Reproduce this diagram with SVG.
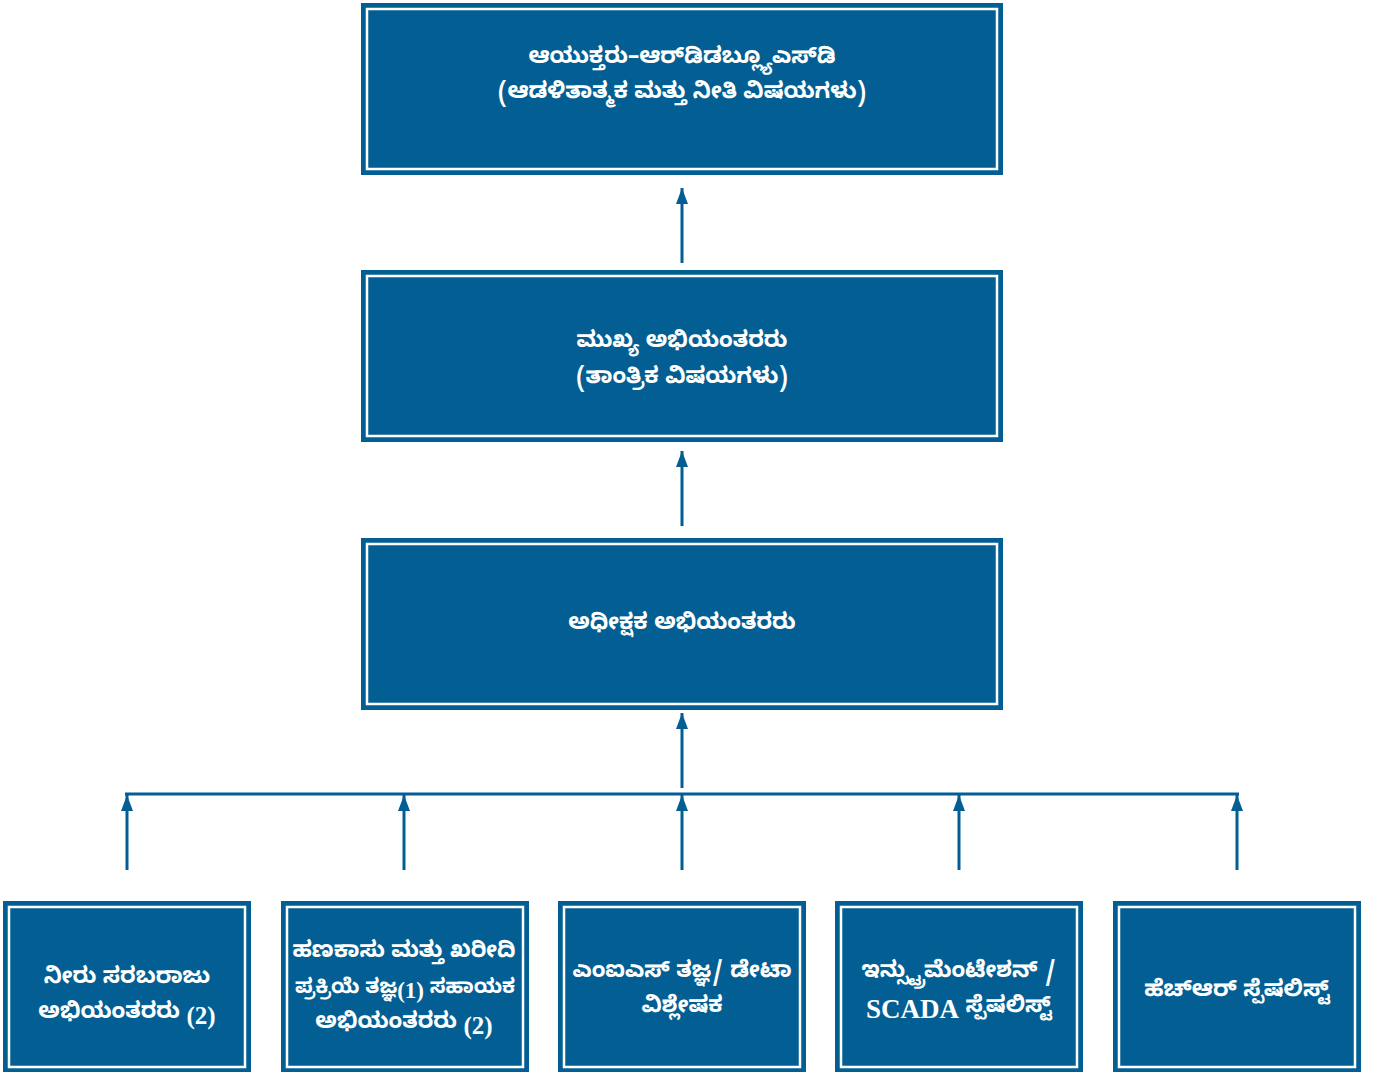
<svg xmlns="http://www.w3.org/2000/svg" width="1376" height="1072" viewBox="0 0 1376 1072">
<style>
.box{fill:#035f93;stroke:none}
.inner{fill:none;stroke:#ffffff;stroke-width:2.5}
.t{font-family:"Noto Sans Kannada","Lohit Kannada","Noto Sans",sans-serif;font-size:22.5px;font-weight:bold;fill:#ffffff;text-anchor:middle;dominant-baseline:central}
.lat{font-family:"Liberation Serif",serif;font-size:25px;font-weight:bold}
.c{stroke:#035f93;stroke-width:3;fill:none}
</style>
<defs>
<marker id="arr" viewBox="0 0 16 12" refX="16" refY="6" markerWidth="16" markerHeight="12" markerUnits="userSpaceOnUse" orient="auto">
<path d="M0,0 L16,6 L0,12 z" fill="#035f93"/>
</marker>
</defs>
<rect width="1376" height="1072" fill="#ffffff"/>
<g id="connectors">
<line class="c" x1="682" y1="263" x2="682" y2="188" marker-end="url(#arr)"/>
<line class="c" x1="682" y1="526" x2="682" y2="451" marker-end="url(#arr)"/>
<line class="c" x1="682" y1="788" x2="682" y2="713" marker-end="url(#arr)"/>
<line class="c" x1="125" y1="794" x2="1239" y2="794"/>
<line class="c" x1="127" y1="870" x2="127" y2="795" marker-end="url(#arr)"/>
<line class="c" x1="404" y1="870" x2="404" y2="795" marker-end="url(#arr)"/>
<line class="c" x1="682" y1="870" x2="682" y2="795" marker-end="url(#arr)"/>
<line class="c" x1="959" y1="870" x2="959" y2="795" marker-end="url(#arr)"/>
<line class="c" x1="1237" y1="870" x2="1237" y2="795" marker-end="url(#arr)"/>
</g>
<g id="node-commissioner">
<rect class="box" x="361" y="3" width="642" height="172"/>
<rect class="inner" x="367" y="9" width="630" height="160"/>
<text class="t" x="682" y="60">ಆಯುಕ್ತರು–ಆರ್‌ಡಿಡಬ್ಲ್ಯೂಎಸ್‌ಡಿ</text>
<text class="t" x="682" y="95">(ಆಡಳಿತಾತ್ಮಕ ಮತ್ತು ನೀತಿ ವಿಷಯಗಳು)</text>
</g>
<g id="node-chief-engineer">
<rect class="box" x="361" y="270" width="642" height="172"/>
<rect class="inner" x="367" y="276" width="630" height="160"/>
<text class="t" x="682" y="344">ಮುಖ್ಯ ಅಭಿಯಂತರರು</text>
<text class="t" x="682" y="380">(ತಾಂತ್ರಿಕ ವಿಷಯಗಳು)</text>
</g>
<g id="node-superintending-engineer">
<rect class="box" x="361" y="538" width="642" height="172"/>
<rect class="inner" x="367" y="544" width="630" height="160"/>
<text class="t" x="682" y="626">ಅಧೀಕ್ಷಕ ಅಭಿಯಂತರರು</text>
</g>
<g id="node-water-supply">
<rect class="box" x="3" y="901" width="248" height="173"/>
<rect class="inner" x="9" y="907" width="236" height="160"/>
<text class="t" x="127" y="980">ನೀರು ಸರಬರಾಜು</text>
<text class="t" x="127" y="1015">ಅಭಿಯಂತರರು <tspan class="lat">(2)</tspan></text>
</g>
<g id="node-finance">
<rect class="box" x="281" y="901" width="248" height="173"/>
<rect class="inner" x="287" y="907" width="236" height="160"/>
<text class="t" x="404" y="954">ಹಣಕಾಸು ಮತ್ತು ಖರೀದಿ</text>
<text class="t" x="405" y="990" style="font-size:20.5px">ಪ್ರಕ್ರಿಯೆ ತಜ್ಞ<tspan class="lat" style="font-size:23px">(1)</tspan> ಸಹಾಯಕ</text>
<text class="t" x="404" y="1025">ಅಭಿಯಂತರರು <tspan class="lat">(2)</tspan></text>
</g>
<g id="node-mis">
<rect class="box" x="558" y="901" width="248" height="173"/>
<rect class="inner" x="564" y="907" width="236" height="160"/>
<text class="t" x="682" y="974">ಎಂಐಎಸ್ ತಜ್ಞ/ ಡೇಟಾ</text>
<text class="t" x="682" y="1009">ವಿಶ್ಲೇಷಕ</text>
</g>
<g id="node-scada">
<rect class="box" x="835" y="901" width="248" height="173"/>
<rect class="inner" x="841" y="907" width="236" height="160"/>
<text class="t" x="959" y="974">ಇನ್ಸ್ಟ್ರುಮೆಂಟೇಶನ್ /</text>
<text class="t" x="959" y="1009"><tspan class="lat" style="font-size:27px">SCADA</tspan> ಸ್ಪೆಷಲಿಸ್ಟ್</text>
</g>
<g id="node-hr">
<rect class="box" x="1113" y="901" width="248" height="173"/>
<rect class="inner" x="1119" y="907" width="236" height="160"/>
<text class="t" x="1237" y="993">ಹೆಚ್‌ಆರ್ ಸ್ಪೆಷಲಿಸ್ಟ್</text>
</g>
</svg>
